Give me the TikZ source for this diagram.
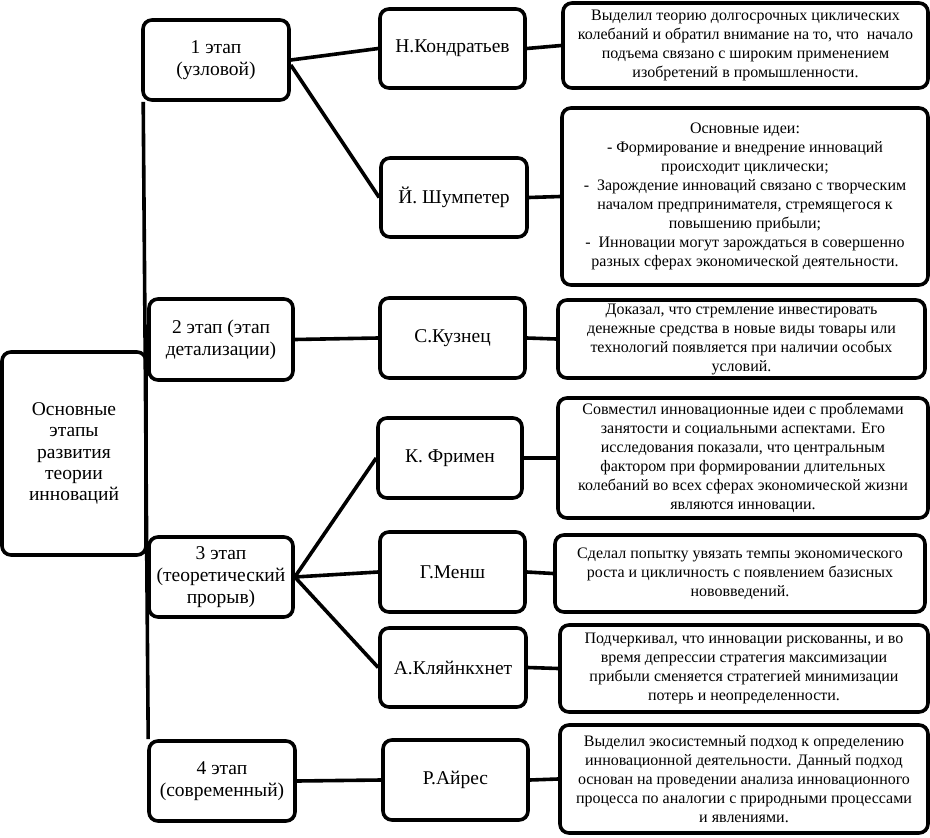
\documentclass[tikz,border=0pt]{standalone}
\usepackage{fontspec}
\setmainfont{Liberation Serif}
\begin{document}
\begin{tikzpicture}[x=1pt,y=-1pt,
  box/.style={draw=black, line width=3.6pt, rounded corners=9pt, fill=white, align=center, inner sep=0pt},
  big/.style={box, font=\fontsize{19.5}{22}\selectfont},
  desc/.style={box, font=\fontsize{16}{19}\selectfont},
  link/.style={line width=3.6pt}
]
\useasboundingbox (0,0) rectangle (930,838);
% main
\node[big, minimum width=144pt, minimum height=203pt, font=\fontsize{19.5}{21.3}\selectfont] (main) at (74,453.5) {Основные\\этапы\\развития\\теории\\инноваций};
% stages
\node[big, minimum width=146pt, minimum height=80pt] (s1) at (216,60) {1 этап\\(узловой)};
\node[big, minimum width=144pt, minimum height=81pt] (s2) at (221,339.5) {2 этап (этап\\детализации)};
\node[big, minimum width=144pt, minimum height=80pt] (s3) at (221,577) {3 этап\\(теоретический\\прорыв)};
\node[big, minimum width=146pt, minimum height=80pt] (s4) at (222,781) {4 этап\\(современный)};
% persons
\node[big, minimum width=145pt, minimum height=79pt] (p1) at (452.5,48.5) {Н.Кондратьев};
\node[big, minimum width=146pt, minimum height=79pt] (p2) at (454,197.5) {Й. Шумпетер};
\node[big, minimum width=145pt, minimum height=80pt] (p3) at (452.5,338) {С.Кузнец};
\node[big, minimum width=144pt, minimum height=80pt] (p4) at (450,458) {К. Фримен};
\node[big, minimum width=145pt, minimum height=80pt] (p5) at (452.5,572) {Г.Менш};
\node[big, minimum width=146pt, minimum height=79pt] (p6) at (453,667.5) {А.Кляйнкхнет};
\node[big, minimum width=145pt, minimum height=80pt] (p7) at (455.5,780) {Р.Айрес};
% descriptions
\node[desc, minimum width=365pt, minimum height=85pt] (d1) at (745.5,45.5) {Выделил теорию долгосрочных циклических\\колебаний и обратил внимание на то, что\ \ начало\\подъема связано с широким применением\\изобретений в промышленности.};
\node[desc, minimum width=366pt, minimum height=177pt] (d2) at (745,196.5) {Основные идеи:\\- Формирование и внедрение инноваций\\происходит циклически;\\-\ \ Зарождение инноваций связано с творческим\\началом предпринимателя, стремящегося к\\повышению прибыли;\\-\ \ Инновации могут зарождаться в совершенно\\разных сферах экономической деятельности.};
\node[desc, minimum width=367pt, minimum height=78pt] (d3) at (741.5,339) {Доказал, что стремление инвестировать\\денежные средства в новые виды товары или\\технологий появляется при наличии особых\\условий.};
\node[desc, minimum width=370pt, minimum height=120pt] (d4) at (743,458) {Совместил инновационные идеи с проблемами\\занятости и социальными аспектами. Его\\исследования показали, что центральным\\фактором при формировании длительных\\колебаний во всех сферах экономической жизни\\являются инновации.};
\node[desc, minimum width=370pt, minimum height=77pt] (d5) at (740,573.5) {Сделал попытку увязать темпы экономического\\роста и цикличность с появлением базисных\\нововведений.};
\node[desc, minimum width=368pt, minimum height=87pt] (d6) at (744,668.5) {Подчеркивал, что инновации рискованны, и во\\время депрессии стратегия максимизации\\прибыли сменяется стратегией минимизации\\потерь и неопределенности.};
\node[desc, minimum width=368pt, minimum height=108pt] (d7) at (744,779) {Выделил экосистемный подход к определению\\инновационной деятельности. Данный подход\\основан на проведении анализа инновационного\\процесса по аналогии с природными процессами\\и явлениями.};
% connectors
\draw[link] ([xshift=2pt]s1.south west) -- ([xshift=1pt]s4.north west);
\draw[link] (s1.east) -- (p1.west);
\draw[link] ([yshift=-5pt]s1.east) -- (p2.west);
\draw[link] (s2.east) -- (p3.west);
\draw[link] (s3.east) -- (p4.west);
\draw[link] (s3.east) -- (p5.west);
\draw[link] (s3.east) -- (p6.west);
\draw[link] (s4.east) -- (p7.west);
\draw[link] (p1.east) -- (d1.west);
\draw[link] (p2.east) -- (d2.west);
\draw[link] (p3.east) -- (d3.west);
\draw[link] (p4.east) -- (d4.west);
\draw[link] (p5.east) -- (d5.west);
\draw[link] (p6.east) -- (d6.west);
\draw[link] (p7.east) -- (d7.west);
\end{tikzpicture}
\end{document}
